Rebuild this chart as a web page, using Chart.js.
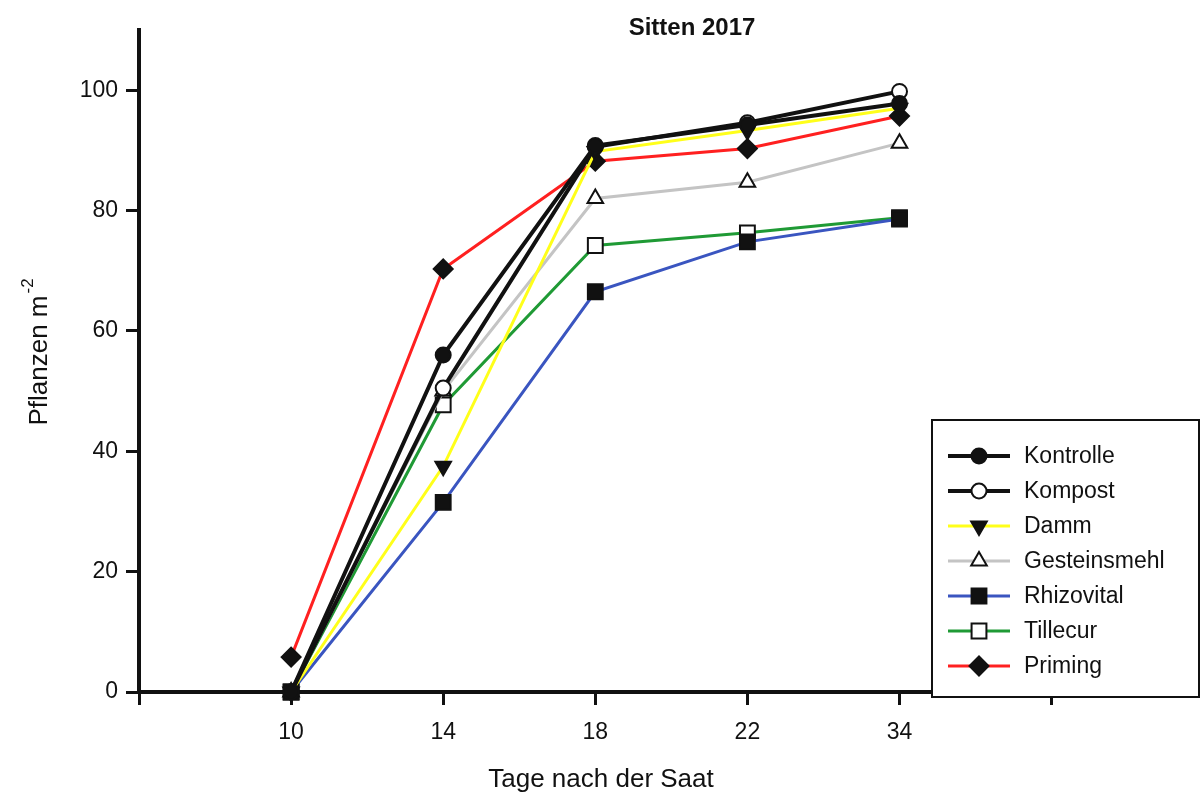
<!DOCTYPE html>
<html>
<head>
<meta charset="utf-8">
<script src="https://cdn.jsdelivr.net/npm/chart.js@4.4.0/dist/chart.umd.min.js"></script>
<style>
  body { margin: 0; background: #fff; }
  #wrap { width: 1201px; height: 808px; position: relative; }
</style>
</head>
<body>
<div id="wrap"><canvas id="myChart"></canvas></div>
<script>
// x positions: index on the axis, labels shown under the ticks
var xLabels = ['', '10', '14', '18', '22', '34', ''];
var xIndex = [1, 2, 3, 4, 5];
var yTicks = [0, 20, 40, 60, 80, 100];

var kontrolle    = [0,   56.0, 90.8, 94.2, 97.8];
var kompost      = [0,   50.5, 90.6, 94.6, 99.8];
var damm         = [0,   37.5, 89.8, 93.3, 97.0];
var gesteinsmehl = [0,   50.0, 82.0, 84.7, 91.2];
var rhizovital   = [0,   31.5, 66.5, 74.8, 78.6];
var tillecur     = [0,   47.7, 74.2, 76.3, 78.8];
var priming      = [5.8, 70.3, 88.2, 90.3, 95.7];

function pts(values) {
  return values.map(function (v, i) { return { x: xIndex[i], y: v }; });
}

function serie(label, values, color, width, style, fill, rot) {
  var r = 7.5;
  if (style === 'triangle') r = 9;
  if (style === 'rect') r = 10.5;
  if (style === 'rectRot') r = 9.5;
  return {
    label: label,
    data: pts(values),
    borderColor: color,
    borderWidth: width,
    pointStyle: style,
    pointRotation: rot || 0,
    pointRadius: r,
    pointBackgroundColor: fill,
    pointBorderColor: '#111',
    pointBorderWidth: 2,
    tension: 0,
    clip: false
  };
}

var datasets = [
  serie('Kontrolle', kontrolle, '#111111', 4, 'circle', '#111111'),
  serie('Kompost', kompost, '#111111', 4, 'circle', '#ffffff'),
  serie('Damm', damm, '#ffff1a', 3, 'triangle', '#111111', 180),
  serie('Gesteinsmehl', gesteinsmehl, '#c4c4c4', 3, 'triangle', '#ffffff'),
  serie('Rhizovital', rhizovital, '#3a55c0', 3, 'rect', '#111111'),
  serie('Tillecur', tillecur, '#1f9a35', 3, 'rect', '#ffffff'),
  serie('Priming', priming, '#ff2020', 3, 'rectRot', '#111111')
];

var FONT = '"Liberation Sans", Arial, sans-serif';

// title, axis titles and the boxed legend
var extras = {
  id: 'extras',
  afterDraw: function (chart) {
    var ctx = chart.ctx;
    ctx.save();
    ctx.fillStyle = '#111';
    ctx.textBaseline = 'middle';

    ctx.font = 'bold 24px ' + FONT;
    ctx.textAlign = 'center';
    ctx.fillText('Sitten 2017', 692, 28);

    ctx.font = '26px ' + FONT;
    ctx.fillText('Tage nach der Saat', 601, 780);

    // y title with superscript
    ctx.translate(40, 352);
    ctx.rotate(-Math.PI / 2);
    ctx.textAlign = 'left';
    ctx.font = '26px ' + FONT;
    var w1 = ctx.measureText('Pflanzen m').width;
    ctx.font = '17px ' + FONT;
    var w2 = ctx.measureText('-2').width;
    var x0 = -(w1 + w2 + 2) / 2;
    ctx.font = '26px ' + FONT;
    ctx.fillText('Pflanzen m', x0, 0);
    ctx.font = '17px ' + FONT;
    ctx.fillText('-2', x0 + w1 + 2, -12);
    ctx.restore();

    // legend
    ctx.save();
    ctx.fillStyle = '#fff';
    ctx.fillRect(932, 420, 267, 277);
    ctx.strokeStyle = '#111';
    ctx.lineWidth = 2;
    ctx.strokeRect(932, 420, 267, 277);
    chart.data.datasets.forEach(function (ds, i) {
      var y = 456 + i * 35;
      ctx.strokeStyle = ds.borderColor;
      ctx.lineWidth = ds.borderWidth;
      ctx.beginPath();
      ctx.moveTo(948, y);
      ctx.lineTo(1010, y);
      ctx.stroke();
      ctx.fillStyle = ds.pointBackgroundColor;
      ctx.strokeStyle = '#111';
      ctx.lineWidth = 2;
      Chart.helpers.drawPoint(ctx, {
        pointStyle: ds.pointStyle,
        rotation: ds.pointRotation,
        radius: ds.pointRadius,
        borderWidth: 2
      }, 979, y);
      ctx.fillStyle = '#111';
      ctx.font = '23px ' + FONT;
      ctx.textAlign = 'left';
      ctx.textBaseline = 'middle';
      ctx.fillText(ds.label, 1024, y + 1);
    });
    ctx.restore();
  }
};

var ctx = document.getElementById('myChart');
var chart = new Chart(ctx, {
  type: 'line',
  data: { datasets: datasets },
  plugins: [extras],
  options: {
    responsive: true,
    maintainAspectRatio: false,
    animation: false,
    layout: { padding: { top: 30, right: 4, left: 0, bottom: 0 } },
    plugins: {
      legend: { display: false },
      title: { display: false },
      tooltip: { enabled: false }
    },
    scales: {
      x: {
        type: 'linear',
        min: 0,
        max: 6.9,
        afterBuildTicks: function (scale) {
          scale.ticks = xLabels.map(function (l, i) { return { value: i }; });
        },
        afterFit: function (scale) { scale.height = 116; },
        border: { display: true, color: '#111', width: 4 },
        grid: { drawOnChartArea: false, drawTicks: true, tickLength: 13, lineWidth: 3, color: '#111' },
        ticks: {
          padding: 14,
          color: '#111',
          font: { family: FONT, size: 23 },
          maxRotation: 0,
          autoSkip: false,
          callback: function (v) { return xLabels[v]; }
        }
      },
      y: {
        min: 0,
        max: 110,
        afterBuildTicks: function (scale) {
          scale.ticks = yTicks.map(function (v) { return { value: v }; });
        },
        afterFit: function (scale) { scale.width = 139; },
        border: { display: true, color: '#111', width: 4 },
        grid: { drawOnChartArea: false, drawTicks: true, tickLength: 13, lineWidth: 3, color: '#111' },
        ticks: {
          padding: 8,
          color: '#111',
          font: { family: FONT, size: 23 }
        }
      }
    }
  }
});
</script>
</body>
</html>
